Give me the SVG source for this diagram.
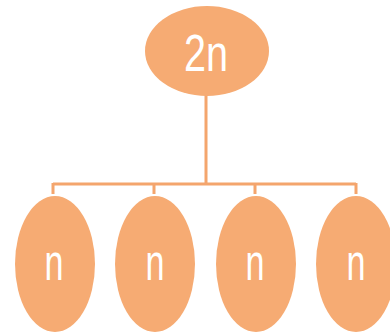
<svg xmlns="http://www.w3.org/2000/svg" width="390" height="333" viewBox="0 0 390 333">
<style>
.node{fill:#F6AB73;}
.lbl{fill:#ffffff;font-family:"Liberation Sans",Arial,sans-serif;font-size:52px;text-anchor:middle;}
.conn{stroke:#F4A56D;stroke-width:3;fill:none;}
</style>
<rect width="390" height="333" fill="#ffffff"/>
<g id="connectors">
<path class="conn" d="M206 95 V184 M53 184 H356 M53 183 V194 M154 183 V194 M255 183 V194 M356 183 V194"/>
</g>
<g id="root">
<ellipse class="node" cx="207" cy="51" rx="62" ry="45"/>
<text class="lbl" x="206" y="71" textLength="44" lengthAdjust="spacingAndGlyphs">2n</text>
</g>
<g id="child1">
<ellipse class="node" cx="55" cy="264" rx="40" ry="68"/>
<text class="lbl" x="54" y="280" textLength="19" lengthAdjust="spacingAndGlyphs">n</text>
</g>
<g id="child2">
<ellipse class="node" cx="155" cy="264" rx="40" ry="68"/>
<text class="lbl" x="155" y="280" textLength="19" lengthAdjust="spacingAndGlyphs">n</text>
</g>
<g id="child3">
<ellipse class="node" cx="256" cy="264" rx="40" ry="68"/>
<text class="lbl" x="255" y="280" textLength="19" lengthAdjust="spacingAndGlyphs">n</text>
</g>
<g id="child4">
<ellipse class="node" cx="356" cy="264" rx="40" ry="68"/>
<text class="lbl" x="356" y="280" textLength="19" lengthAdjust="spacingAndGlyphs">n</text>
</g>
</svg>
